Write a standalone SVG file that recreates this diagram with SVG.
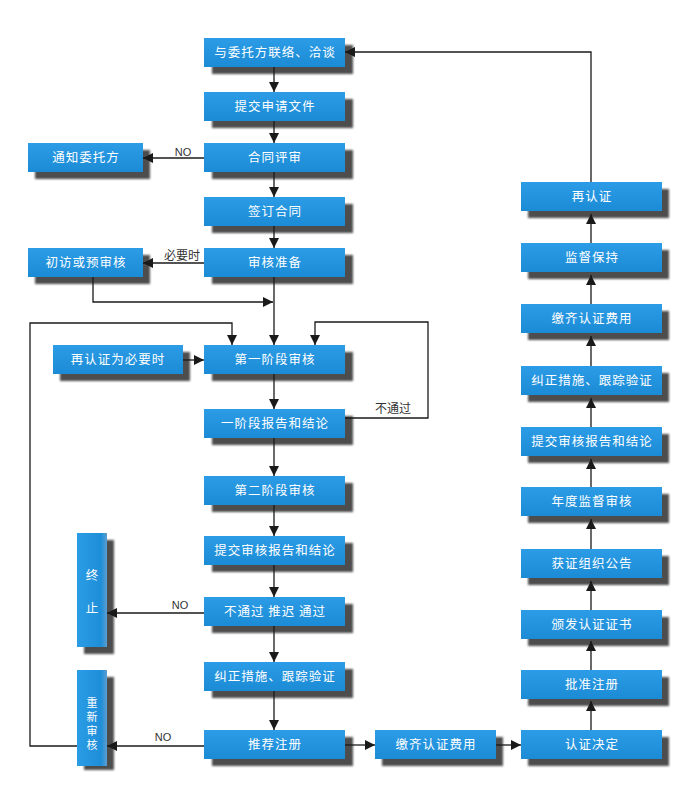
<svg xmlns="http://www.w3.org/2000/svg" width="691" height="800" viewBox="0 0 691 800">
<defs>
<linearGradient id="gv" x1="0" y1="0" x2="0" y2="1">
<stop offset="0" stop-color="#2c9ce6"/>
<stop offset="1" stop-color="#1b8bd6"/>
</linearGradient>
<linearGradient id="gh" x1="0" y1="0" x2="1" y2="0">
<stop offset="0" stop-color="#2a9ce6"/>
<stop offset="0.8" stop-color="#1f8ed8"/>
<stop offset="1" stop-color="#5a9fd0"/>
</linearGradient>
<filter id="blur" x="-10%" y="-10%" width="120%" height="120%">
<feGaussianBlur stdDeviation="1"/>
</filter>
<marker id="ah" viewBox="0 0 10 10" refX="10" refY="5" markerWidth="10" markerHeight="10" markerUnits="userSpaceOnUse" orient="auto">
<path d="M0,0 L10,5 L0,10 z" fill="#1a1a1a"/>
</marker>
</defs>
<style>
.sh{fill:#4d4d4d;filter:url(#blur)}
.bx{fill:url(#gv)}
.bv{fill:url(#gh)}
.t{font-family:"Noto Sans CJK SC","Noto Sans",sans-serif;font-size:12.5px;fill:#ffffff;text-anchor:middle;letter-spacing:1px}
.tv{font-family:"Noto Sans CJK SC","Noto Sans",sans-serif;font-size:11px;fill:#ffffff;text-anchor:middle;writing-mode:vertical-rl;letter-spacing:3px}
.lb{font-family:"Liberation Sans","Noto Sans CJK SC",sans-serif;font-size:11px;fill:#333333;text-anchor:middle}
.lbc{font-family:"Noto Sans CJK SC",sans-serif;font-size:12px;fill:#333333;text-anchor:middle}
.ar{fill:none;stroke:#1a1a1a;stroke-width:1.3;marker-end:url(#ah)}
</style>
<rect width="691" height="800" fill="#ffffff"/>

<!-- center column -->
<g id="c1"><rect class="sh" x="212" y="45" width="141" height="29"/><rect class="bx" x="204" y="38" width="141" height="29"/><text class="t" x="275" y="57">与委托方联络、洽谈</text></g>
<g id="c2"><rect class="sh" x="212" y="99" width="141" height="29"/><rect class="bx" x="204" y="92" width="141" height="29"/><text class="t" x="275" y="111">提交申请文件</text></g>
<g id="c3"><rect class="sh" x="212" y="150" width="141" height="29"/><rect class="bx" x="204" y="143" width="141" height="29"/><text class="t" x="275" y="162">合同评审</text></g>
<g id="c4"><rect class="sh" x="212" y="204" width="141" height="29"/><rect class="bx" x="204" y="197" width="141" height="29"/><text class="t" x="275" y="216">签订合同</text></g>
<g id="c5"><rect class="sh" x="212" y="255" width="141" height="29"/><rect class="bx" x="204" y="248" width="141" height="29"/><text class="t" x="275" y="267">审核准备</text></g>
<g id="c6"><rect class="sh" x="212" y="352" width="141" height="29"/><rect class="bx" x="204" y="345" width="141" height="29"/><text class="t" x="275" y="364">第一阶段审核</text></g>
<g id="c7"><rect class="sh" x="212" y="416" width="141" height="29"/><rect class="bx" x="204" y="409" width="141" height="29"/><text class="t" x="275" y="428">一阶段报告和结论</text></g>
<g id="c8"><rect class="sh" x="212" y="483" width="141" height="29"/><rect class="bx" x="204" y="476" width="141" height="29"/><text class="t" x="275" y="495">第二阶段审核</text></g>
<g id="c9"><rect class="sh" x="212" y="543" width="141" height="29"/><rect class="bx" x="204" y="536" width="141" height="29"/><text class="t" x="275" y="555">提交审核报告和结论</text></g>
<g id="c10"><rect class="sh" x="212" y="604" width="141" height="29"/><rect class="bx" x="204" y="597" width="141" height="29"/><text class="t" x="275" y="616" xml:space="preserve">不通过 推迟 通过</text></g>
<g id="c11"><rect class="sh" x="212" y="669" width="141" height="29"/><rect class="bx" x="204" y="662" width="141" height="29"/><text class="t" x="275" y="681">纠正措施、跟踪验证</text></g>
<g id="c12"><rect class="sh" x="212" y="737" width="141" height="29"/><rect class="bx" x="204" y="730" width="141" height="29"/><text class="t" x="275" y="749">推荐注册</text></g>

<!-- left boxes -->
<g id="l1"><rect class="sh" x="35" y="150" width="115" height="29"/><rect class="bx" x="28" y="143" width="115" height="29"/><text class="t" x="86" y="162">通知委托方</text></g>
<g id="l2"><rect class="sh" x="35" y="255" width="115" height="29"/><rect class="bx" x="28" y="248" width="115" height="29"/><text class="t" x="86" y="267">初访或预审核</text></g>
<g id="l3"><rect class="sh" x="60" y="352" width="130" height="29"/><rect class="bx" x="53" y="345" width="130" height="29"/><text class="t" x="118" y="364">再认证为必要时</text></g>
<g id="l4"><rect class="sh" x="84" y="540" width="30" height="114"/><rect class="bv" x="77" y="533" width="30" height="114"/><text class="t" style="letter-spacing:0"><tspan x="92" y="580">终</tspan><tspan x="92" y="613">止</tspan></text></g>
<g id="l5"><rect class="sh" x="84" y="677" width="30" height="93"/><rect class="bv" x="77" y="670" width="30" height="96"/><text class="tv" x="92" y="725">重新审核</text></g>

<!-- bottom middle -->
<g id="b1"><rect class="sh" x="382" y="737" width="121" height="29"/><rect class="bx" x="375" y="730" width="121" height="29"/><text class="t" x="436" y="749">缴齐认证费用</text></g>

<!-- right column -->
<g id="r1"><rect class="sh" x="528" y="189" width="141" height="29"/><rect class="bx" x="521" y="182" width="141" height="29"/><text class="t" x="592" y="201">再认证</text></g>
<g id="r2"><rect class="sh" x="528" y="250" width="141" height="29"/><rect class="bx" x="521" y="243" width="141" height="29"/><text class="t" x="592" y="262">监督保持</text></g>
<g id="r3"><rect class="sh" x="528" y="311" width="141" height="29"/><rect class="bx" x="521" y="304" width="141" height="29"/><text class="t" x="592" y="323">缴齐认证费用</text></g>
<g id="r4"><rect class="sh" x="528" y="373" width="141" height="29"/><rect class="bx" x="521" y="366" width="141" height="29"/><text class="t" x="592" y="385">纠正措施、跟踪验证</text></g>
<g id="r5"><rect class="sh" x="528" y="434" width="141" height="29"/><rect class="bx" x="521" y="427" width="141" height="29"/><text class="t" x="592" y="446">提交审核报告和结论</text></g>
<g id="r6"><rect class="sh" x="528" y="494" width="141" height="29"/><rect class="bx" x="521" y="487" width="141" height="29"/><text class="t" x="592" y="506">年度监督审核</text></g>
<g id="r7"><rect class="sh" x="528" y="556" width="141" height="29"/><rect class="bx" x="521" y="549" width="141" height="29"/><text class="t" x="592" y="568">获证组织公告</text></g>
<g id="r8"><rect class="sh" x="528" y="617" width="141" height="29"/><rect class="bx" x="521" y="610" width="141" height="29"/><text class="t" x="592" y="629">颁发认证证书</text></g>
<g id="r9"><rect class="sh" x="528" y="677" width="141" height="29"/><rect class="bx" x="521" y="670" width="141" height="29"/><text class="t" x="592" y="689">批准注册</text></g>
<g id="r10"><rect class="sh" x="528" y="737" width="141" height="29"/><rect class="bx" x="521" y="730" width="141" height="29"/><text class="t" x="592" y="749">认证决定</text></g>

<!-- connectors -->
<g id="connectors">
<path class="ar" d="M274,67 V92"/>
<path class="ar" d="M274,121 V143"/>
<path class="ar" d="M274,172 V197"/>
<path class="ar" d="M274,226 V248"/>
<path class="ar" d="M274,277 V345"/>
<path class="ar" d="M274,374 V409"/>
<path class="ar" d="M274,438 V476"/>
<path class="ar" d="M274,505 V536"/>
<path class="ar" d="M274,565 V597"/>
<path class="ar" d="M274,626 V662"/>
<path class="ar" d="M274,691 V730"/>
<path class="ar" d="M204,158 H143"/>
<path class="ar" d="M204,263 H143"/>
<path class="ar" d="M93,277 V302 H273"/>
<path class="ar" d="M183,360 H204"/>
<path class="ar" d="M345,418 H428 V322 H315 V345"/>
<path class="ar" d="M77,746 H30 V323 H232 V345"/>
<path class="ar" d="M204,613 H107"/>
<path class="ar" d="M204,746 H107"/>
<path class="ar" d="M345,745 H375"/>
<path class="ar" d="M496,745 H521"/>
<path class="ar" d="M591,730 V701"/>
<path class="ar" d="M591,670 V641"/>
<path class="ar" d="M591,610 V581"/>
<path class="ar" d="M591,549 V519"/>
<path class="ar" d="M591,487 V459"/>
<path class="ar" d="M591,427 V398"/>
<path class="ar" d="M591,366 V336"/>
<path class="ar" d="M591,304 V275"/>
<path class="ar" d="M591,243 V214"/>
<path class="ar" d="M591,182 V52 H345"/>
<text class="lb" x="183" y="156">NO</text>
<text class="lbc" x="182" y="260">必要时</text>
<text class="lbc" x="393" y="413">不通过</text>
<text class="lb" x="180" y="609">NO</text>
<text class="lb" x="163" y="741">NO</text>
</g>
</svg>
